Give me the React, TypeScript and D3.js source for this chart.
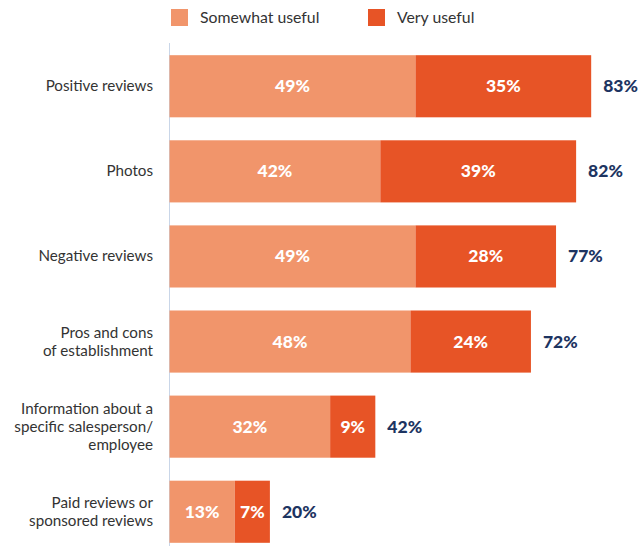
import React from "react";
import * as d3 from "d3";

const categories = [
  ["Positive reviews"],
  ["Photos"],
  ["Negative reviews"],
  ["Pros and cons", "of establishment"],
  ["Information about a", "specific salesperson/", "employee"],
  ["Paid reviews or", "sponsored reviews"],
];
const somewhat = [49, 42, 49, 48, 32, 13];
const very = [35, 39, 28, 24, 9, 7];
const totals = [83, 82, 77, 72, 42, 20];
const seriesNames = ["Somewhat useful", "Very useful"];
const colors = ["#F1956B", "#E75426"];

export default function App() {
  const W = 640, H = 546;
  const x0 = 169.5;
  const x = d3.scaleLinear().domain([0, 100]).range([x0, x0 + 502]);
  const y = d3
    .scaleBand<number>()
    .domain(d3.range(categories.length))
    .range([42, 556])
    .paddingInner(0.27)
    .paddingOuter(0.155);
  const font = "Lato, 'Open Sans', sans-serif";
  return (
    <svg
      width={W}
      height={H}
      style={{ position: "absolute", left: 0, top: 0, fontFamily: font }}
    >
      {seriesNames.map((s, i) => {
        const lx = i === 0 ? 171 : 368;
        return (
          <g key={s}>
            <rect x={lx} y={9} width={17} height={17} fill={colors[i]} />
            <text x={lx + 29} y={23} fontSize={15.8} fill="#333">
              {s}
            </text>
          </g>
        );
      })}
      <line x1={x0} x2={x0} y1={43} y2={H} stroke="#C9D6E8" strokeWidth={1} />
      {categories.map((lines, i) => {
        const by = y(i)!;
        const bh = y.bandwidth();
        const cy = by + bh / 2;
        const s0 = x(0), s1 = x(somewhat[i]), s2 = x(somewhat[i] + very[i]);
        const lh = 18;
        const startY = cy - ((lines.length - 1) * lh) / 2 + 5;
        return (
          <g key={i}>
            <rect x={s0} y={by} width={s1 - s0} height={bh} fill={colors[0]} />
            <rect x={s1} y={by} width={s2 - s1} height={bh} fill={colors[1]} />
            <text
              x={(s0 + s1) / 2}
              y={cy + 6}
              textAnchor="middle"
              fontSize={17.5}
              fontWeight={900}
              fill="#fff"
            >
              {somewhat[i]}%
            </text>
            <text
              x={(s1 + s2) / 2}
              y={cy + 6}
              textAnchor="middle"
              fontSize={17.5}
              fontWeight={900}
              fill="#fff"
            >
              {very[i]}%
            </text>
            <text
              x={s2 + 12}
              y={cy + 6}
              fontSize={17.5}
              fontWeight={900}
              fill="#1D3461"
            >
              {totals[i]}%
            </text>
            {lines.map((l, j) => (
              <text
                key={j}
                x={153}
                y={startY + j * lh}
                textAnchor="end"
                fontSize={15.2}
                fill="#333"
              >
                {l}
              </text>
            ))}
          </g>
        );
      })}
    </svg>
  );
}
